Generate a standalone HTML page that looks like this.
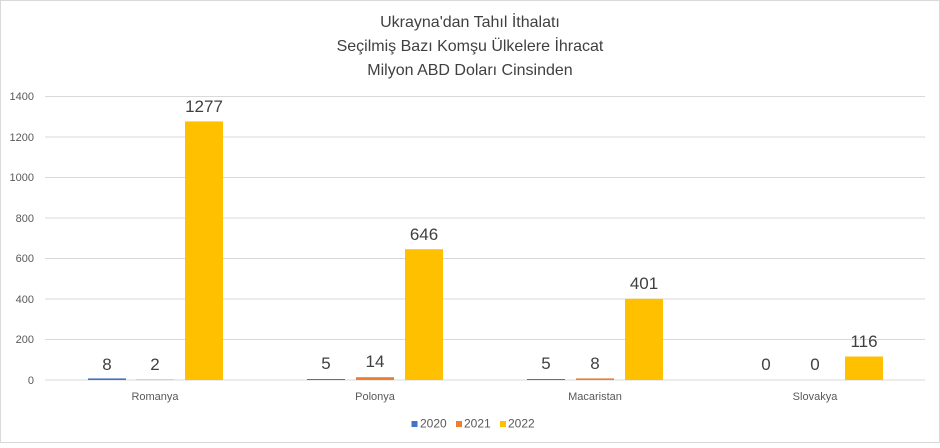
<!DOCTYPE html>
<html><head><meta charset="utf-8"><style>
body{margin:0;background:#fff}
</style></head><body>
<svg width="940" height="443" xmlns="http://www.w3.org/2000/svg" font-family="Liberation Sans, sans-serif">
<rect x="0.5" y="0.5" width="939" height="442" fill="#fff" stroke="#d9d9d9"/>
<g text-anchor="middle" fill="#404040" font-size="16">
<text x="470" y="27">Ukrayna'dan Tahıl İthalatı</text>
<text x="470" y="51">Seçilmiş Bazı Komşu Ülkelere İhracat</text>
<text x="470" y="75">Milyon ABD Doları Cinsinden</text>
</g>
<g stroke="#d9d9d9" stroke-width="1">
<line x1="45" x2="925" y1="96.5" y2="96.5"/>
<line x1="45" x2="925" y1="137" y2="137"/>
<line x1="45" x2="925" y1="177.5" y2="177.5"/>
<line x1="45" x2="925" y1="218" y2="218"/>
<line x1="45" x2="925" y1="258.5" y2="258.5"/>
<line x1="45" x2="925" y1="299" y2="299"/>
<line x1="45" x2="925" y1="339.5" y2="339.5"/>
<line x1="45" x2="925" y1="380" y2="380"/>
</g>
<g font-size="11" fill="#595959" text-anchor="end">
<text x="34" y="100">1400</text><text x="34" y="141">1200</text><text x="34" y="181">1000</text>
<text x="34" y="222">800</text><text x="34" y="262">600</text><text x="34" y="303">400</text>
<text x="34" y="343">200</text><text x="34" y="384">0</text>
</g>
<g>
<rect x="88" y="378.4" width="38" height="1.6" fill="#4472c4"/>
<rect x="136" y="379.6" width="38" height="0.4" fill="#ed7d31"/>
<rect x="185" y="121.4" width="38" height="258.6" fill="#ffc000"/>
<rect x="307" y="379" width="38" height="1" fill="#4472c4"/>
<rect x="356" y="377.2" width="38" height="2.8" fill="#ed7d31"/>
<rect x="405" y="249.2" width="38" height="130.8" fill="#ffc000"/>
<rect x="527" y="379" width="38" height="1" fill="#4472c4"/>
<rect x="576" y="378.4" width="38" height="1.6" fill="#ed7d31"/>
<rect x="625" y="298.8" width="38" height="81.2" fill="#ffc000"/>
<rect x="845" y="356.5" width="38" height="23.5" fill="#ffc000"/>
</g>
<g font-size="17" fill="#404040" text-anchor="middle">
<text x="107" y="370">8</text><text x="155" y="370">2</text><text x="204" y="112">1277</text>
<text x="326" y="369">5</text><text x="375" y="367">14</text><text x="424" y="240">646</text>
<text x="546" y="369">5</text><text x="595" y="369">8</text><text x="644" y="289">401</text>
<text x="766" y="370">0</text><text x="815" y="370">0</text><text x="864" y="347">116</text>
</g>
<g font-size="11" fill="#595959" text-anchor="middle">
<text x="155" y="400">Romanya</text><text x="375" y="400">Polonya</text>
<text x="595" y="400">Macaristan</text><text x="815" y="400">Slovakya</text>
</g>
<g font-size="12" fill="#595959">
<rect x="411.5" y="421" width="6" height="6" fill="#4472c4"/><text x="420" y="427.5">2020</text>
<rect x="456" y="421" width="6" height="6" fill="#ed7d31"/><text x="464" y="427.5">2021</text>
<rect x="500" y="421" width="6" height="6" fill="#ffc000"/><text x="508" y="427.5">2022</text>
</g>
</svg>
</body></html>
